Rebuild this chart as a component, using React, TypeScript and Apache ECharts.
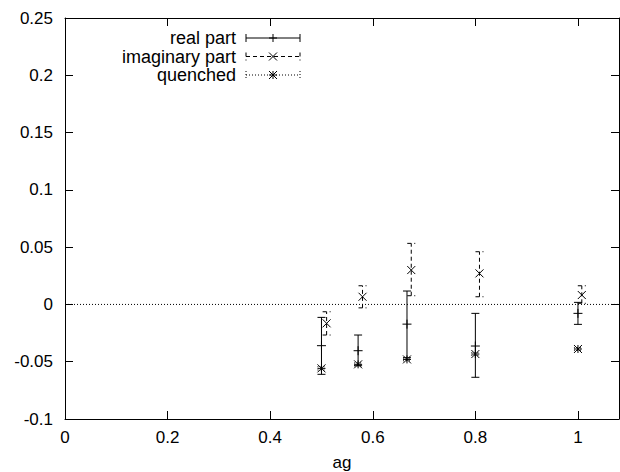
import React, { useEffect, useRef } from "react";
import * as echarts from "echarts";

const seriesNames = ["real part", "imaginary part", "quenched"];

const realX = [0.5, 0.5714, 0.6667, 0.8, 1.0];
const realY = [-0.036, -0.0404, -0.0172, -0.0363, -0.0078];
const realLo = [-0.061, -0.0535, -0.0465, -0.0636, -0.0174];
const realHi = [-0.0113, -0.0267, 0.0117, -0.0078, 0.0018];

const imagX = [0.51, 0.58, 0.675, 0.808, 1.0075];
const imagY = [-0.0165, 0.0067, 0.03, 0.0271, 0.0082];
const imagLo = [-0.0267, -0.003, 0.0076, 0.0067, 0.001];
const imagHi = [-0.0064, 0.0163, 0.0533, 0.046, 0.0163];

const quenX = [0.5, 0.5714, 0.6667, 0.8, 1.0];
const quenY = [-0.0558, -0.0523, -0.048, -0.0433, -0.0389];
const quenLo = [-0.0572, -0.0535, -0.0492, -0.0445, -0.04];
const quenHi = [-0.0544, -0.0511, -0.0468, -0.0421, -0.0378];

const xTicks = [0, 0.2, 0.4, 0.6, 0.8, 1];
const yTicks = [-0.1, -0.05, 0, 0.05, 0.1, 0.15, 0.2, 0.25];
const xMin = 0;
const xMax = 1.08;
const yMin = -0.1;
const yMax = 0.25;

const FONT = "'Liberation Sans', Arial, Helvetica, sans-serif";
const FS = 17;
const LFS = 18;

type Kind = "plus" | "cross" | "star";

function markerLines(cx: number, cy: number, kind: Kind, r: number) {
  const s = { stroke: "#000", lineWidth: 1 };
  const out: any[] = [];
  if (kind === "plus" || kind === "star") {
    out.push({ type: "line", shape: { x1: cx - r, y1: cy, x2: cx + r, y2: cy }, style: s });
    out.push({ type: "line", shape: { x1: cx, y1: cy - r, x2: cx, y2: cy + r }, style: s });
  }
  if (kind === "cross" || kind === "star") {
    out.push({ type: "line", shape: { x1: cx - r, y1: cy - r, x2: cx + r, y2: cy + r }, style: s });
    out.push({ type: "line", shape: { x1: cx - r, y1: cy + r, x2: cx + r, y2: cy - r }, style: s });
  }
  return out;
}

function makeRender(kind: Kind, dash: number[] | null) {
  return (params: any, api: any) => {
    const x = api.value(0);
    const y = api.value(1);
    const lo = api.value(2);
    const hi = api.value(3);
    const p = api.coord([x, y]);
    const pl = api.coord([x, lo]);
    const ph = api.coord([x, hi]);
    const ls: any = { stroke: "#000", lineWidth: 1, lineDash: dash || undefined };
    const cap = 4;
    const children: any[] = [
      { type: "line", shape: { x1: pl[0], y1: pl[1], x2: ph[0], y2: ph[1] }, style: ls },
      { type: "line", shape: { x1: pl[0] - cap, y1: pl[1], x2: pl[0] + cap, y2: pl[1] }, style: ls },
      { type: "line", shape: { x1: ph[0] - cap, y1: ph[1], x2: ph[0] + cap, y2: ph[1] }, style: ls },
      ...markerLines(p[0], p[1], kind, kind === "plus" ? 4.5 : 4),
    ];
    return { type: "group", children };
  };
}

function legendItem(row: number, name: string, kind: Kind, dash: number[] | null) {
  const cy = 38 + row * 18.5;
  const x1 = 246;
  const x2 = 300;
  const mid = (x1 + x2) / 2;
  const ls: any = { stroke: "#000", lineWidth: 1, lineDash: dash || undefined };
  return [
    {
      type: "text",
      x: 236,
      y: cy,
      style: {
        text: name,
        font: `${LFS}px ${FONT}`,
        fill: "#000",
        align: "right",
        verticalAlign: "middle",
      },
    },
    { type: "line", shape: { x1, y1: cy, x2, y2: cy }, style: ls },
    { type: "line", shape: { x1, y1: cy - 4, x2: x1, y2: cy + 4 }, style: ls },
    { type: "line", shape: { x1: x2, y1: cy - 4, x2, y2: cy + 4 }, style: ls },
    ...markerLines(mid, cy, kind, 4),
  ];
}

const zip = (xs: number[], ys: number[], lo: number[], hi: number[]) =>
  xs.map((x, i) => [x, ys[i], lo[i], hi[i]]);

export default function App() {
  const ref = useRef<HTMLDivElement>(null);
  useEffect(() => {
    if (!ref.current) return;
    const chart = echarts.init(ref.current, null, { renderer: "svg" });
    const axisLine = { show: true, onZero: false, lineStyle: { color: "#000", width: 1 } };
    const tickIn = (vals: number[]) => ({
      show: true,
      inside: true,
      length: 8,
      customValues: vals,
      lineStyle: { color: "#000", width: 1 },
    });
    chart.setOption({
      animation: false,
      backgroundColor: "#fff",
      textStyle: { fontFamily: FONT },
      grid: {
        left: 65,
        right: 1,
        top: 18,
        bottom: 53,
        containLabel: false,
        outerBoundsMode: "none",
      },
      xAxis: [
        {
          type: "value",
          position: "bottom",
          min: xMin,
          max: xMax,
          axisLine,
          axisTick: tickIn(xTicks),
          splitLine: { show: false },
          axisLabel: {
            customValues: xTicks,
            color: "#000",
            fontSize: FS,
            fontFamily: FONT,
            margin: 10,
            formatter: (v: number) => String(Math.round(v * 100) / 100),
          },
          name: "ag",
          nameLocation: "middle",
          nameGap: 35,
          nameTextStyle: { color: "#000", fontSize: FS, fontFamily: FONT },
        },
        {
          type: "value",
          position: "top",
          min: xMin,
          max: xMax,
          axisLine,
          axisTick: tickIn(xTicks),
          splitLine: { show: false },
          axisLabel: { show: false },
        },
      ],
      yAxis: [
        {
          type: "value",
          position: "left",
          min: yMin,
          max: yMax,
          axisLine,
          axisTick: tickIn(yTicks),
          splitLine: { show: false },
          axisLabel: {
            customValues: yTicks,
            color: "#000",
            fontSize: FS,
            fontFamily: FONT,
            margin: 12,
            formatter: (v: number) => String(Math.round(v * 1000) / 1000),
          },
        },
        {
          type: "value",
          position: "right",
          min: yMin,
          max: yMax,
          axisLine,
          axisTick: tickIn(yTicks),
          splitLine: { show: false },
          axisLabel: { show: false },
        },
      ],
      graphic: [
        ...legendItem(0, seriesNames[0], "plus", null),
        ...legendItem(1, seriesNames[1], "cross", [4, 3]),
        ...legendItem(2, seriesNames[2], "star", [1, 2]),
      ],
      series: [
        {
          type: "custom",
          name: "zero",
          silent: true,
          data: [[xMin, 0]],
          encode: { x: 0, y: 1 },
          renderItem: (params: any, api: any) => {
            const p0 = api.coord([xMin, 0]);
            const p1 = api.coord([xMax, 0]);
            return {
              type: "line",
              shape: { x1: p0[0], y1: p0[1], x2: p1[0], y2: p1[1] },
              style: { stroke: "#000", lineWidth: 1, lineDash: [1, 2] },
            };
          },
        },
        {
          type: "custom",
          name: seriesNames[0],
          data: zip(realX, realY, realLo, realHi),
          encode: { x: 0, y: 1 },
          renderItem: makeRender("plus", null),
        },
        {
          type: "custom",
          name: seriesNames[1],
          data: zip(imagX, imagY, imagLo, imagHi),
          encode: { x: 0, y: 1 },
          renderItem: makeRender("cross", [4, 3]),
        },
        {
          type: "custom",
          name: seriesNames[2],
          data: zip(quenX, quenY, quenLo, quenHi),
          encode: { x: 0, y: 1 },
          renderItem: makeRender("star", [1, 2]),
        },
      ],
    });
    return () => chart.dispose();
  }, []);
  return <div ref={ref} style={{ width: 620, height: 472, position: "fixed", left: 0, top: 0 }} />;
}
